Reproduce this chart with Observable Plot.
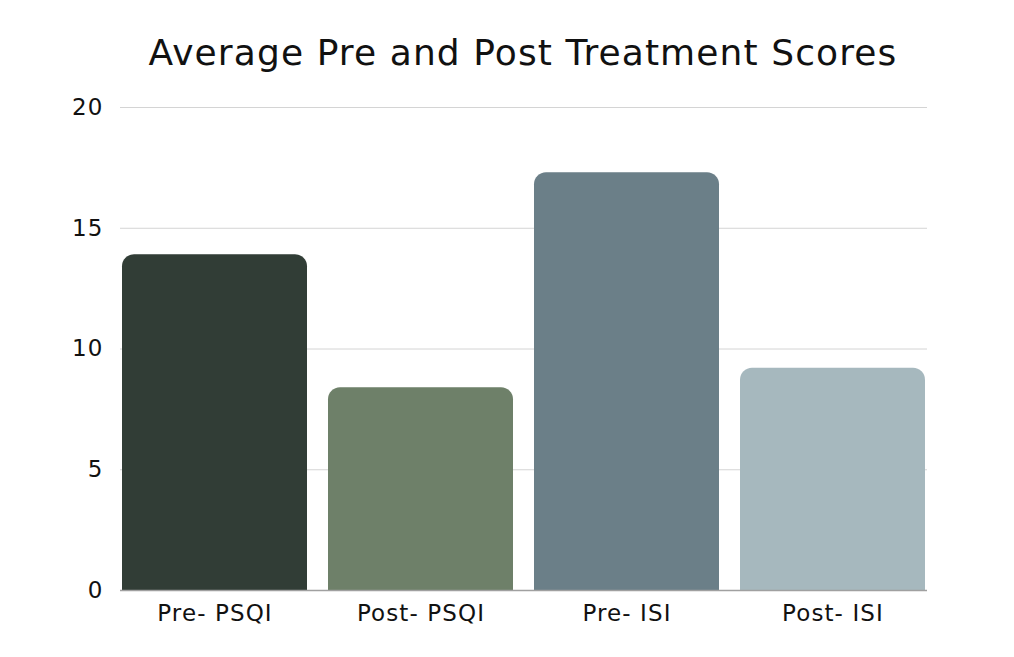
<!DOCTYPE html>
<html>
<head>
<meta charset="utf-8">
<script src="https://cdn.jsdelivr.net/npm/d3@7"></script>
<script src="https://cdn.jsdelivr.net/npm/@observablehq/plot@0.6"></script>
<style>
  body { margin: 0; background: #fff; font-family: "DejaVu Sans", sans-serif; }
  #title { height: 90px; line-height: 106px; text-align: center; font-size: 36px; letter-spacing: 1.1px; color: #111; padding-left: 32px; box-sizing: border-box; white-space: nowrap; }
  #chart text { letter-spacing: 1.1px; }
</style>
</head>
<body>
<div id="title">Average Pre and Post Treatment Scores</div>
<div id="chart"></div>
<script>
const categories = ["Pre- PSQI", "Post- PSQI", "Pre- ISI", "Post- ISI"];
const scores = [13.9, 8.4, 17.3, 9.2];
const colors = ["#313d36", "#6e8069", "#6b7f88", "#a6b8be"];
const yTicks = [0, 5, 10, 15, 20];

const data = categories.map((c, i) => ({category: c, score: scores[i]}));

const chart = Plot.plot({
  width: 1014,
  height: 567,
  marginTop: 17,
  marginBottom: 67,
  marginLeft: 120,
  marginRight: 87,
  style: {fontFamily: "DejaVu Sans, sans-serif", fontSize: "23px", color: "#111", background: "#fff"},
  x: {domain: categories, paddingInner: 0.1, paddingOuter: 0, label: null},
  y: {domain: [0, 20], ticks: yTicks, label: null},
  color: {domain: categories, range: colors},
  marks: [
    Plot.gridY(yTicks, {stroke: "#d4d4d4", strokeOpacity: 1, strokeWidth: 1}),
    Plot.barY(data, {x: "category", y: "score", fill: "category", ry1: 12}),
    Plot.ruleY([0], {stroke: "#a0a0a0", strokeWidth: 1.5}),
    Plot.axisY(yTicks, {tickSize: 0, tickPadding: 17, fontSize: 23, label: null}),
    Plot.axisX({tickSize: 0, tickPadding: 14, fontSize: 23, label: null})
  ]
});
document.getElementById("chart").appendChild(chart);
</script>
</body>
</html>
